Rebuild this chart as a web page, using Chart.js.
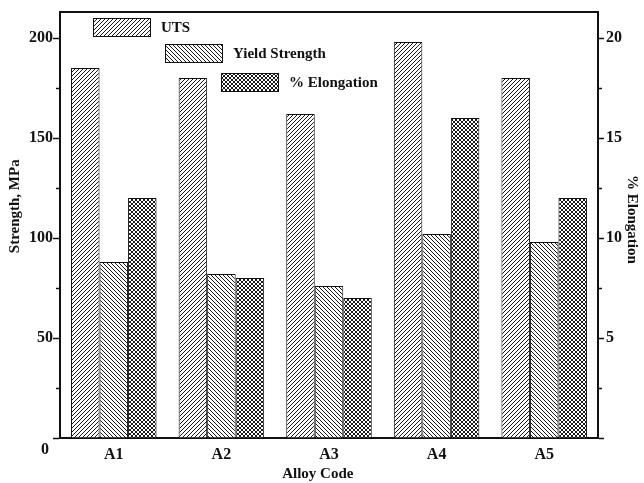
<!DOCTYPE html>
<html><head><meta charset="utf-8">
<script src="https://cdn.jsdelivr.net/npm/chart.js@4.4.0/dist/chart.umd.min.js"></script>
<style>html,body{margin:0;padding:0;background:#fff}#wrap{width:644px;height:483px}</style>
</head><body><div id="wrap"><canvas id="c" width="644" height="483"></canvas></div>
<script>
const categories = ['A1', 'A2', 'A3', 'A4', 'A5'];
const seriesNames = ['UTS', 'Yield Strength', '% Elongation'];
const utsValues = [185, 180, 162, 198, 180];
const yieldValues = [88, 82, 76, 102, 98];
const elongationValues = [12, 8, 7, 16, 12];
const strengthMinorTicks = [25, 75, 125, 175];
const elongationMinorTicks = [2.5, 7.5, 12.5, 17.5];
const axisTitles = { x: 'Alloy Code', y: 'Strength, MPa', y1: '% Elongation' };

const FONT = 'Liberation Serif, Times New Roman, serif';
const INK = '#111';
const canvas = document.getElementById('c');
const mainCtx = canvas.getContext('2d');

function makePattern(kind) {
  const s = 4;
  const c = document.createElement('canvas');
  c.width = s; c.height = s;
  const g = c.getContext('2d');
  g.fillStyle = '#fff'; g.fillRect(0, 0, s, s);
  g.fillStyle = '#1a1a1a';
  for (let i = 0; i < s; i++) {
    if (kind === 'fwd' || kind === 'cross') g.fillRect(i, s - 1 - i, 1, 1);
    if (kind === 'back' || kind === 'cross') g.fillRect(i, i, 1, 1);
  }
  return mainCtx.createPattern(c, 'repeat');
}
const patterns = [makePattern('fwd'), makePattern('back'), makePattern('cross')];

const framePlugin = {
  id: 'frame',
  afterDraw(chart) {
    const ctx = chart.ctx;
    const a = chart.chartArea;
    ctx.save();
    ctx.strokeStyle = INK;
    ctx.lineWidth = 2;
    ctx.beginPath();
    ctx.moveTo(a.left - 1, a.top);
    ctx.lineTo(a.right + 1, a.top);
    ctx.stroke();
    // minor ticks
    ctx.lineWidth = 1.5;
    const ys = chart.scales.y, y1 = chart.scales.y1;
    strengthMinorTicks.forEach(v => {
      const p = Math.round(ys.getPixelForValue(v)) + 0.5;
      ctx.beginPath(); ctx.moveTo(a.left - 4, p); ctx.lineTo(a.left, p); ctx.stroke();
    });
    elongationMinorTicks.forEach(v => {
      const p = Math.round(y1.getPixelForValue(v)) + 0.5;
      ctx.beginPath(); ctx.moveTo(a.right, p); ctx.lineTo(a.right + 4, p); ctx.stroke();
    });
    // zero label of strength axis (drawn slightly below the axis as in the original)
    ctx.fillStyle = INK;
    ctx.font = 'bold 16px ' + FONT;
    ctx.textAlign = 'center';
    ctx.textBaseline = 'middle';
    ctx.fillText('0', a.left - 15, ys.getPixelForValue(0) + 12);
    // staggered legend
    const boxes = [
      { dx: 33, dy: 6 },
      { dx: 105, dy: 32 },
      { dx: 161, dy: 61 }
    ];
    ctx.font = 'bold 15px ' + FONT;
    ctx.textAlign = 'left';
    boxes.forEach((b, i) => {
      const x = a.left + b.dx, y = a.top + b.dy, w = 57, h = 18;
      ctx.fillStyle = patterns[i];
      ctx.fillRect(x, y, w, h);
      ctx.lineWidth = 1;
      ctx.strokeStyle = INK;
      ctx.strokeRect(x + 0.5, y + 0.5, w, h);
      ctx.fillStyle = INK;
      ctx.fillText(seriesNames[i], x + w + 11, y + h / 2 + 1);
    });
    ctx.restore();
  }
};

const tickFont = { family: FONT, size: 16, weight: 'bold' };
const titleFont = { family: FONT, size: 15, weight: 'bold' };

new Chart(canvas, {
  type: 'bar',
  data: {
    labels: categories,
    datasets: [
      { label: seriesNames[0], data: utsValues, yAxisID: 'y', backgroundColor: patterns[0], borderColor: INK, borderWidth: 1 },
      { label: seriesNames[1], data: yieldValues, yAxisID: 'y', backgroundColor: patterns[1], borderColor: INK, borderWidth: 1 },
      { label: seriesNames[2], data: elongationValues, yAxisID: 'y1', backgroundColor: patterns[2], borderColor: INK, borderWidth: 1 }
    ]
  },
  options: {
    responsive: false,
    animation: false,
    devicePixelRatio: 1,
    layout: { padding: { top: 12, left: 0, right: 0, bottom: 0 } },
    datasets: { bar: { categoryPercentage: 0.795, barPercentage: 1.0 } },
    plugins: { legend: { display: false }, tooltip: { enabled: false } },
    scales: {
      x: {
        type: 'category',
        offset: true,
        grid: { display: true, drawOnChartArea: false, drawTicks: false },
        border: { display: true, color: INK, width: 2 },
        ticks: { font: tickFont, color: INK, padding: 7 },
        title: { display: true, text: axisTitles.x + '      ', font: titleFont, color: INK, padding: { top: 0, bottom: 0 } },
        afterFit(s) { s.height = 45; }
      },
      y: {
        position: 'left',
        min: 0, max: 213,
        grid: { display: true, drawOnChartArea: false, drawTicks: true, tickLength: 7, tickWidth: 1.5, tickColor: INK },
        border: { display: true, color: INK, width: 2 },
        ticks: { stepSize: 50, includeBounds: false, font: tickFont, color: INK, padding: 0,
          callback: v => (v === 0 ? '' : v) },
        title: { display: true, text: '          ' + axisTitles.y, font: titleFont, color: INK, padding: { top: 6, bottom: 0 } },
        afterFit(s) { s.width = 60; }
      },
      y1: {
        position: 'right',
        min: 0, max: 21.3,
        grid: { display: true, drawOnChartArea: false, drawTicks: true, tickLength: 6, tickWidth: 1.5, tickColor: INK },
        border: { display: true, color: INK, width: 2 },
        ticks: { stepSize: 5, includeBounds: false, font: tickFont, color: INK, padding: 2,
          callback: v => (v === 0 ? '' : v) },
        title: { display: true, text: axisTitles.y1 + '   ', font: titleFont, color: INK, padding: { top: 3, bottom: 0 } },
        afterFit(s) { s.width = 46; }
      }
    }
  },
  plugins: [framePlugin]
});
</script>
</body></html>
